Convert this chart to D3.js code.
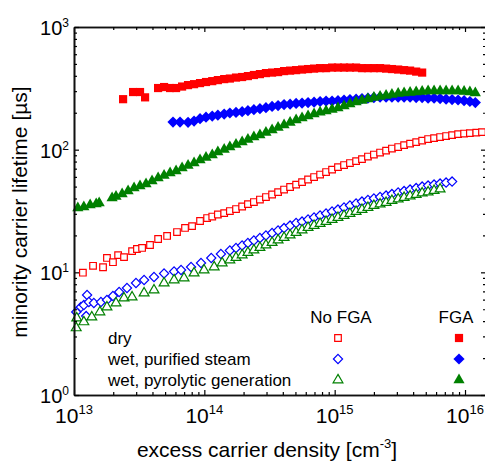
<!DOCTYPE html>
<html>
<head>
<meta charset="utf-8">
<script src="https://cdn.jsdelivr.net/npm/d3@7"></script>
<style>
  body { margin: 0; background: #fff; }
  svg { font-family: "Liberation Sans", Arial, sans-serif; }
</style>
</head>
<body>
<div id="chart"></div>
<script>
// lifetime [µs] vs excess carrier density [cm^-3]
const dryNoFga = [[1.17e13,9.93],[1.40e13,11.3],[1.67e13,11.0],[1.79e13,13.1],[1.99e13,12.1],[2.18e13,13.8],[2.42e13,13.3],[2.79e13,14.9],[3.04e13,15.5],[3.33e13,15.8],[3.83e13,16.7],[4.42e13,18.7],[5.18e13,19.8],[6.17e13,21.3],[7.11e13,23.0],[8.05e13,23.8],[9.27e13,26.2],[1.05e14,27.7],[1.15e14,28.5],[1.27e14,29.6],[1.42e14,30.4],[1.57e14,31.6],[1.75e14,32.8],[1.95e14,34.4],[2.16e14,36.0],[2.40e14,37.4],[2.67e14,39.2],[2.97e14,41.1],[3.31e14,43.1],[3.68e14,45.1],[4.09e14,47.3],[4.55e14,49.6],[5.06e14,51.9],[5.62e14,54.4],[6.25e14,57.1],[6.95e14,59.8],[7.73e14,62.7],[8.59e14,65.7],[9.55e14,68.8],[1.06e15,72.1],[1.18e15,74.9],[1.31e15,77.8],[1.46e15,80.7],[1.62e15,83.8],[1.80e15,87.9],[2.00e15,91.2],[2.23e15,94.7],[2.48e15,98.3],[2.75e15,102.1],[3.07e15,105.0],[3.41e15,109.0],[3.79e15,112.1],[4.22e15,115.3],[4.69e15,118.6],[5.21e15,122.0],[5.79e15,124.3],[6.44e15,126.7],[7.16e15,129.1],[7.96e15,131.5],[8.85e15,134.0],[9.84e15,135.3],[1.09e16,136.5],[1.22e16,137.8],[1.35e16,139.1]];

const purifiedNoFga = [[1.04e13,4.75],[1.13e13,5.21],[1.19e13,5.41],[1.24e13,4.40],[1.26e13,6.53],[1.30e13,5.73],[1.42e13,5.62],[1.61e13,5.73],[1.79e13,5.95],[1.99e13,6.41],[2.22e13,6.91],[2.55e13,7.45],[2.99e13,8.18],[3.45e13,8.66],[4.11e13,9.16],[4.91e13,9.78],[5.86e13,10.15],[6.63e13,10.44],[7.91e13,11.05],[9.43e13,11.91],[1.13e14,13.08],[1.34e14,14.10],[1.57e14,15.06],[1.75e14,15.78],[1.95e14,16.54],[2.16e14,17.33],[2.40e14,18.16],[2.67e14,19.04],[2.97e14,19.95],[3.31e14,20.91],[3.68e14,21.91],[4.09e14,22.96],[4.55e14,24.06],[5.06e14,25.23],[5.62e14,25.94],[6.25e14,26.94],[6.95e14,27.97],[7.73e14,29.04],[8.59e14,30.15],[9.55e14,31.30],[1.06e15,32.49],[1.18e15,33.74],[1.31e15,35.03],[1.46e15,36.37],[1.62e15,37.76],[1.80e15,38.84],[2.00e15,39.95],[2.23e15,41.09],[2.48e15,42.26],[2.75e15,43.46],[3.07e15,44.71],[3.41e15,45.98],[3.79e15,47.29],[4.22e15,48.64],[4.69e15,50.03],[5.21e15,50.98],[5.79e15,51.95],[6.44e15,52.93],[7.16e15,53.94],[7.96e15,54.95]];

const pyroNoFga = [[1.04e13,3.52],[1.05e13,4.24],[1.19e13,3.94],[1.37e13,4.32],[1.58e13,4.75],[1.79e13,5.21],[2.10e13,5.62],[2.42e13,6.17],[2.79e13,6.29],[3.45e13,6.78],[4.11e13,7.17],[4.91e13,8.18],[5.86e13,8.66],[6.99e13,8.98],[8.34e13,9.87],[9.95e13,10.44],[1.19e14,11.05],[1.37e14,11.91],[1.57e14,12.60],[1.75e14,13.20],[1.95e14,13.84],[2.16e14,14.50],[2.40e14,15.19],[2.67e14,15.93],[2.97e14,16.69],[3.31e14,17.49],[3.68e14,18.33],[4.09e14,19.21],[4.55e14,20.14],[5.06e14,21.10],[5.62e14,22.12],[6.25e14,23.18],[6.95e14,24.06],[7.73e14,24.99],[8.59e14,25.94],[9.55e14,26.94],[1.06e15,27.97],[1.18e15,29.04],[1.31e15,30.15],[1.46e15,31.30],[1.62e15,32.49],[1.80e15,33.74],[2.00e15,35.03],[2.23e15,36.03],[2.48e15,37.06],[2.75e15,38.47],[3.07e15,39.57],[3.41e15,40.70],[3.79e15,41.86],[4.22e15,43.06],[4.69e15,44.29],[5.21e15,45.13],[5.79e15,46.41],[6.44e15,47.74]];

const dryFga = [[2.38e13,258],[2.84e13,295],[3.21e13,295],[3.51e13,267],[4.42e13,318],[4.91e13,324],[5.46e13,318],[6.07e13,318],[6.75e13,327],[7.50e13,336],[8.34e13,342],[9.27e13,349],[1.03e14,356],[1.15e14,362],[1.27e14,369],[1.42e14,376],[1.57e14,380],[1.75e14,387],[1.95e14,391],[2.16e14,398],[2.40e14,406],[2.67e14,413],[2.97e14,421],[3.31e14,425],[3.68e14,429],[4.09e14,437],[4.55e14,441],[5.06e14,445],[5.62e14,450],[6.25e14,454],[6.95e14,458],[7.73e14,462],[8.59e14,462],[9.55e14,467],[1.06e15,467],[1.18e15,467],[1.31e15,467],[1.46e15,467],[1.62e15,462],[1.80e15,462],[2.00e15,462],[2.23e15,462],[2.48e15,458],[2.75e15,454],[3.07e15,450],[3.41e15,445],[3.79e15,441],[4.22e15,433],[4.69e15,425]];

const purifiedFga = [[5.75e13,168],[6.51e13,168],[7.50e13,167],[8.34e13,171],[9.27e13,179],[1.03e14,184],[1.15e14,188],[1.27e14,191],[1.42e14,195],[1.57e14,199],[1.75e14,201],[1.95e14,204],[2.16e14,208],[2.40e14,212],[2.67e14,216],[2.97e14,220],[3.31e14,225],[3.68e14,229],[4.09e14,233],[4.55e14,235],[5.06e14,238],[5.62e14,240],[6.25e14,242],[6.95e14,244],[7.73e14,247],[8.59e14,249],[9.55e14,249],[1.06e15,251],[1.18e15,254],[1.31e15,256],[1.46e15,258],[1.62e15,261],[1.80e15,263],[2.00e15,266],[2.23e15,268],[2.48e15,268],[2.75e15,268],[3.07e15,268],[3.41e15,268],[3.79e15,268],[4.22e15,266],[4.69e15,266],[5.21e15,263],[5.79e15,263],[6.44e15,261],[7.16e15,258],[7.96e15,256],[8.85e15,254],[9.84e15,251],[1.09e16,247],[1.20e16,242]];

const pyroFga = [[1.07e13,33.4],[1.19e13,34.1],[1.33e13,35.4],[1.48e13,36.0],[1.56e13,36.7],[1.96e13,40.3],[2.10e13,41.5],[2.34e13,43.5],[2.60e13,46.0],[2.89e13,48.6],[3.21e13,50.5],[3.57e13,52.4],[3.97e13,55.5],[4.42e13,58.7],[4.91e13,61.5],[5.46e13,64.5],[6.07e13,66.9],[6.75e13,70.8],[7.50e13,74.2],[8.34e13,77.8],[9.27e13,82.3],[1.03e14,86.2],[1.15e14,90.4],[1.27e14,95.6],[1.42e14,100.2],[1.57e14,105.0],[1.75e14,110.0],[1.95e14,115.3],[2.16e14,120.9],[2.40e14,126.7],[2.67e14,131.5],[2.97e14,137.8],[3.31e14,144.4],[3.68e14,151.4],[4.09e14,158.6],[4.55e14,166.3],[5.06e14,174.3],[5.62e14,180.9],[6.25e14,187.8],[6.95e14,195.1],[7.73e14,202],[8.59e14,206.4],[9.55e14,212.3],[1.06e15,218.3],[1.18e15,226.7],[1.31e15,235.3],[1.46e15,244.3],[1.62e15,251.3],[1.80e15,258.5],[2.00e15,265.8],[2.23e15,270.9],[2.48e15,276.0],[2.75e15,281.3],[3.07e15,286.6],[3.41e15,289.3],[3.79e15,292.1],[4.22e15,294.8],[4.69e15,297.6],[5.21e15,300.4],[5.79e15,300.4],[6.44e15,300.4],[7.16e15,300.4],[7.96e15,300.4],[8.85e15,300.4],[9.84e15,297.6],[1.09e16,294.8],[1.20e16,289.3]];

const seriesNames = ["dry", "wet, purified steam", "wet, pyrolytic generation"];
const legendHeads = ["No FGA", "FGA"];
const xDecades = [13, 14, 15, 16];
const yDecades = [0, 1, 2, 3];

const width = 485, height = 461;

const svg = d3.select("#chart").append("svg")
    .attr("width", width)
    .attr("height", height);

const x = d3.scaleLog().domain([1e13, 1.449e16]).range([74, 486]);
const y = d3.scaleLog().domain([1, 1000]).range([395, 27]);

const isMajor = v => Math.abs(Math.log10(v) - Math.round(Math.log10(v))) < 1e-6;
const xMinor = x.ticks().filter(v => !isMajor(v));
const yMinor = y.ticks().filter(v => !isMajor(v));
const xMajor = xDecades.map(e => Math.pow(10, e));
const yMajor = yDecades.map(e => Math.pow(10, e));

// marker shapes
const square = s => `M${-s/2},${-s/2}h${s}v${s}h${-s}Z`;
const diamond = r => `M0,${-r}L${r},0L0,${r}L${-r},0Z`;
const triangle = (w, h) => `M0,${-2*h/3}L${w/2},${h/3}L${-w/2},${h/3}Z`;

const styles = [
    { color: "#ff0000", open: square(6.6), full: square(8.2) },
    { color: "#0000ff", open: diamond(4.6), full: diamond(5.6) },
    { color: "#008000", open: triangle(9.8, 8.4), full: triangle(11.2, 9.8) }
];

function plotSeries(data, st, open) {
    svg.append("g").selectAll("path")
        .data(data)
        .join("path")
        .attr("transform", d => `translate(${x(d[0])},${y(d[1])})`)
        .attr("d", open ? st.open : st.full)
        .attr("fill", open ? "#fff" : st.color)
        .attr("stroke", open ? st.color : "none")
        .attr("stroke-width", 1.2);
}

plotSeries(dryNoFga, styles[0], true);
plotSeries(purifiedNoFga, styles[1], true);
plotSeries(pyroNoFga, styles[2], true);
plotSeries(dryFga, styles[0], false);
plotSeries(purifiedFga, styles[1], false);
plotSeries(pyroFga, styles[2], false);

// axes: ticks point inwards on all four sides
function addAxis(axisFn, scale, ticks, size, transform) {
    svg.append("g")
        .attr("transform", transform)
        .call(axisFn(scale).tickValues(ticks).tickSizeInner(size).tickSizeOuter(0).tickFormat(""))
        .call(g => g.selectAll(".tick line").attr("stroke", "#000").attr("stroke-width", 1.2))
        .call(g => g.select(".domain").attr("stroke", "#111").attr("stroke-width", 1.6));
}
addAxis(d3.axisBottom, x, xMajor, -5, "translate(0,395)");
addAxis(d3.axisBottom, x, xMinor, -3, "translate(0,395)");
addAxis(d3.axisTop, x, xMajor, -5, "translate(0,27)");
addAxis(d3.axisTop, x, xMinor, -3, "translate(0,27)");
addAxis(d3.axisLeft, y, yMajor, -5, "translate(74,0)");
addAxis(d3.axisLeft, y, yMinor, -3, "translate(74,0)");
addAxis(d3.axisRight, y, yMajor, -5, "translate(486,0)");
addAxis(d3.axisRight, y, yMinor, -3, "translate(486,0)");

// tick labels 10^n
svg.append("g").selectAll("text")
    .data(xDecades)
    .join("text")
    .attr("x", d => x(Math.pow(10, d)))
    .attr("y", 423)
    .attr("text-anchor", "middle")
    .style("font-size", "21px")
    .each(function(d) {
        const t = d3.select(this);
        t.append("tspan").text("10");
        t.append("tspan").attr("dy", -9).style("font-size", "13px").text(d);
    });

svg.append("g").selectAll("text")
    .data(yDecades)
    .join("text")
    .attr("x", 69)
    .attr("y", d => y(Math.pow(10, d)) + 8)
    .attr("text-anchor", "end")
    .style("font-size", "20px")
    .each(function(d) {
        const t = d3.select(this);
        t.append("tspan").text("10");
        t.append("tspan").attr("dy", -8).style("font-size", "12px").text(d);
    });

// axis titles
const xTitle = svg.append("text")
    .attr("x", 267)
    .attr("y", 457)
    .attr("text-anchor", "middle")
    .style("font-size", "21px");
xTitle.append("tspan").text("excess carrier density [cm");
xTitle.append("tspan").attr("dy", -9).style("font-size", "13px").text("-3");
xTitle.append("tspan").attr("dy", 9).text("]");

svg.append("text")
    .attr("transform", "translate(27,212) rotate(-90)")
    .attr("text-anchor", "middle")
    .style("font-size", "21px")
    .text("minority carrier lifetime [µs]");

// legend
const rowY = [338, 359, 380];
svg.append("g").selectAll("text")
    .data(seriesNames)
    .join("text")
    .attr("x", 108)
    .attr("y", (d, i) => rowY[i] + 5.5)
    .style("font-size", "17px")
    .text(d => d);

const colX = [338, 459];
svg.append("g").selectAll("text")
    .data(legendHeads)
    .join("text")
    .attr("x", (d, i) => colX[i] + (i === 0 ? 3 : -3))
    .attr("y", 323)
    .attr("text-anchor", "middle")
    .style("font-size", "17px")
    .text(d => d);

styles.forEach((st, i) => {
    [true, false].forEach((open, j) => {
        svg.append("path")
            .attr("transform", `translate(${colX[j]},${rowY[i]})`)
            .attr("d", open ? st.open : st.full)
            .attr("fill", open ? "#fff" : st.color)
            .attr("stroke", open ? st.color : "none")
            .attr("stroke-width", 1.2);
    });
});
</script>
</body>
</html>
